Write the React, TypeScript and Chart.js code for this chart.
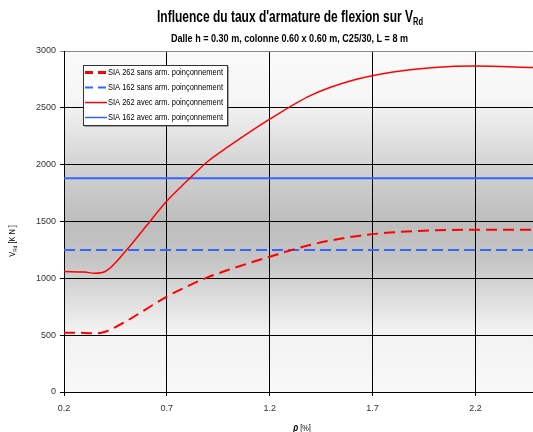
import React, { useEffect, useRef } from 'react';
import { Chart, registerables } from 'chart.js';

Chart.register(...registerables);

// ---- data ----
const rho = [0.2, 0.3, 0.35, 0.4, 0.5, 0.6, 0.7, 0.8, 0.9, 1.0, 1.2, 1.4, 1.6, 1.8, 2.0, 2.2, 2.48];
const sia262Sans = [522, 520, 515, 530, 620, 730, 840, 930, 1010, 1075, 1190, 1295, 1365, 1405, 1422, 1428, 1428];
const sia262Avec = [1060, 1055, 1045, 1060, 1240, 1460, 1680, 1860, 2030, 2160, 2400, 2610, 2740, 2815, 2855, 2868, 2855];
const rhoFlat = [0.2, 2.48];
const sia162Sans = [1250, 1250];
const sia162Avec = [1880, 1880];
const xTicks = [0.2, 0.7, 1.2, 1.7, 2.2];
const yTicks = [0, 500, 1000, 1500, 2000, 2500, 3000];
const legendLabels = [
  'SIA 262 sans arm. poinçonnement',
  'SIA 162 sans arm. poinçonnement',
  'SIA 262 avec arm. poinçonnement',
  'SIA 162 avec arm. poinçonnement',
];
const titleMain = "Influence du taux d'armature de flexion sur V";
const titleSub = 'Rd';
const subtitle = 'Dalle h = 0.30 m, colonne 0.60 x 0.60 m, C25/30, L = 8 m';

const FONT = '"Liberation Sans", Arial, sans-serif';
const RED = '#FF0000';
const BLUE = '#3366FF';
const CONDENSE = 0.82;

type Run = { text: string; font: string; dy?: number };

// draws runs centred at cx, horizontally scaled (factor or fit-to-width)
function drawRuns(
  ctx: CanvasRenderingContext2D,
  runs: Run[],
  cx: number,
  y: number,
  color: string,
  opts: { width?: number; factor?: number; align?: 'center' | 'left' } = {}
) {
  let total = 0;
  const widths = runs.map((r) => {
    ctx.font = r.font;
    const w = ctx.measureText(r.text).width;
    total += w;
    return w;
  });
  const f = opts.width ? opts.width / total : opts.factor || CONDENSE;
  ctx.save();
  ctx.translate(cx, y);
  ctx.scale(f, 1);
  let x = opts.align === 'left' ? 0 : -total / 2;
  ctx.fillStyle = color;
  ctx.textAlign = 'left';
  runs.forEach((r, i) => {
    ctx.font = r.font;
    ctx.fillText(r.text, x, r.dy || 0);
    x += widths[i];
  });
  ctx.restore();
}

const decorPlugin = {
  id: 'decor',
  beforeDraw(chart: any) {
    const { ctx, chartArea: a } = chart;
    ctx.save();
    ctx.fillStyle = '#ffffff';
    ctx.fillRect(0, 0, chart.width, chart.height);
    const g = ctx.createLinearGradient(0, a.top, 0, a.bottom);
    g.addColorStop(0, '#fafafa');
    g.addColorStop(0.14, '#f6f6f6');
    g.addColorStop(0.34, '#d2d2d2');
    g.addColorStop(0.5, '#bdbdbd');
    g.addColorStop(0.62, '#c6c6c6');
    g.addColorStop(0.82, '#f2f2f2');
    g.addColorStop(1, '#f8f8f8');
    ctx.fillStyle = g;
    ctx.fillRect(a.left, a.top, a.right - a.left, a.bottom - a.top);
    ctx.restore();
  },
  afterDraw(chart: any) {
    const { ctx, chartArea: a } = chart;
    ctx.save();
    ctx.textBaseline = 'alphabetic';
    // title
    drawRuns(
      ctx,
      [
        { text: titleMain, font: `bold 16px ${FONT}` },
        { text: titleSub, font: `bold 10px ${FONT}`, dy: 3 },
      ],
      290,
      22,
      '#000',
      { width: 266 }
    );
    drawRuns(ctx, [{ text: subtitle, font: `bold 11px ${FONT}` }], 289.5, 42, '#000', { width: 237 });

    // x title
    drawRuns(
      ctx,
      [
        { text: 'ρ', font: `bold italic 10px ${FONT}` },
        { text: ' [%]', font: `9px ${FONT}` },
      ],
      302,
      431,
      '#000'
    );

    // y title
    ctx.save();
    ctx.translate(15, 241);
    ctx.rotate(-Math.PI / 2);
    drawRuns(
      ctx,
      [
        { text: 'V', font: `9px ${FONT}` },
        { text: 'Rd', font: `6px ${FONT}`, dy: 2 },
        { text: ' [K N ]', font: `9px ${FONT}` },
      ],
      0,
      0,
      '#000'
    );
    ctx.restore();

    // legend
    const lx = 83, ly = 65, lw = 144, lh = 60;
    ctx.fillStyle = '#555';
    ctx.fillRect(lx + 1.5, ly + 1.5, lw, lh);
    ctx.fillStyle = '#ffffff';
    ctx.fillRect(lx, ly, lw, lh);
    ctx.strokeStyle = '#333';
    ctx.lineWidth = 1;
    ctx.strokeRect(lx + 0.5, ly + 0.5, lw, lh);
    const styles = [
      { c: RED, dash: [8, 5], w: 3 },
      { c: BLUE, dash: [8, 5], w: 2 },
      { c: RED, dash: [], w: 1.5 },
      { c: BLUE, dash: [], w: 1.5 },
    ];
    ctx.font = `9px ${FONT}`;
    const legFactor = 115 / ctx.measureText(legendLabels[0]).width;
    legendLabels.forEach((t, i) => {
      const y = ly + 7.5 + i * 15;
      const s = styles[i];
      ctx.beginPath();
      ctx.setLineDash(s.dash);
      ctx.strokeStyle = s.c;
      ctx.lineWidth = s.w;
      ctx.moveTo(85, y);
      ctx.lineTo(107, y);
      ctx.stroke();
      ctx.setLineDash([]);
      ctx.textBaseline = 'middle';
      drawRuns(ctx, [{ text: t, font: `9px ${FONT}` }], 108, y, '#000', { factor: legFactor, align: 'left' });
    });
    ctx.restore();
  },
};

export default function App() {
  const ref = useRef<HTMLCanvasElement | null>(null);
  useEffect(() => {
    if (!ref.current) return;
    const toXY = (xs: number[], ys: number[]) => xs.map((x, i) => ({ x, y: ys[i] }));
    const chart = new Chart(ref.current, {
      type: 'line',
      data: {
        datasets: [
          {
            label: legendLabels[0],
            data: toXY(rho, sia262Sans),
            borderColor: RED,
            borderWidth: 2,
            borderDash: [11, 6],
            pointRadius: 0,
            tension: 0.4,
            cubicInterpolationMode: 'monotone',
          },
          {
            label: legendLabels[1],
            data: toXY(rhoFlat, sia162Sans),
            borderColor: BLUE,
            borderWidth: 2,
            borderDash: [11, 5],
            pointRadius: 0,
          },
          {
            label: legendLabels[2],
            data: toXY(rho, sia262Avec),
            borderColor: RED,
            borderWidth: 1.5,
            pointRadius: 0,
            tension: 0.4,
            cubicInterpolationMode: 'monotone',
          },
          {
            label: legendLabels[3],
            data: toXY(rhoFlat, sia162Avec),
            borderColor: BLUE,
            borderWidth: 2,
            pointRadius: 0,
          },
        ],
      },
      options: {
        responsive: false,
        animation: false,
        layout: { padding: { top: 51, left: 0, right: 0, bottom: 0 } },
        plugins: { legend: { display: false }, title: { display: false }, tooltip: { enabled: false } },
        scales: {
          x: {
            type: 'linear',
            min: 0.2,
            max: 2.48,
            afterBuildTicks: (s: any) => {
              s.ticks = xTicks.map((v) => ({ value: v }));
            },
            afterFit: (s: any) => {
              s.height = 40;
            },
            ticks: {
              color: '#333',
              font: { family: FONT, size: 9 },
              maxRotation: 0,
              autoSkip: false,
              padding: 7,
              callback: (v: any) => Number(v).toFixed(1),
            },
            grid: { color: '#000', lineWidth: 1, tickLength: 4 },
            border: { color: '#000', width: 1 },
          },
          y: {
            min: 0,
            max: 3000,
            afterBuildTicks: (s: any) => {
              s.ticks = yTicks.map((v) => ({ value: v }));
            },
            afterFit: (s: any) => {
              s.width = 64;
            },
            ticks: {
              color: '#333',
              font: { family: FONT, size: 9 },
              padding: 4,
              callback: (v: any) => String(v),
            },
            grid: {
              color: (c: any) => (c.tick && c.tick.value === 3000 ? '#888' : '#000'),
              lineWidth: 1,
              tickLength: 4,
            },
            border: { color: '#000', width: 1 },
          },
        },
      },
      plugins: [decorPlugin],
    } as any);
    return () => chart.destroy();
  }, []);
  return (
    <div style={{ position: 'absolute', left: 0, top: 0, width: 533, height: 432 }}>
      <canvas ref={ref} width={533} height={432} style={{ display: 'block' }} />
    </div>
  );
}
